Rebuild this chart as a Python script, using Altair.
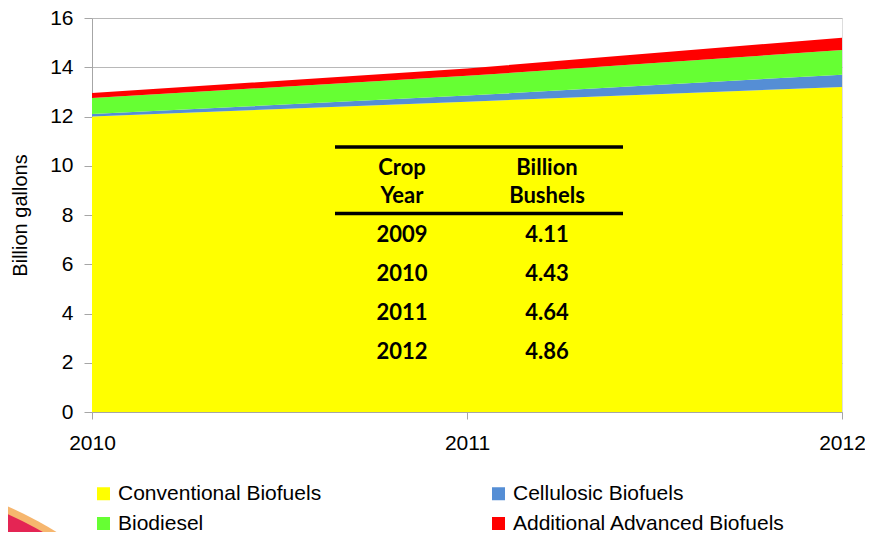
import altair as alt
import pandas as pd

years = [2010, 2011, 2012]
series_names = ["Conventional Biofuels", "Cellulosic Biofuels", "Biodiesel", "Additional Advanced Biofuels"]
conventional = [12.0, 12.6, 13.2]
cellulosic = [0.1, 0.25, 0.5]
biodiesel = [0.65, 0.8, 1.0]
additional = [0.2, 0.3, 0.5]
colors = ["#FFFF00", "#558ED5", "#66FF33", "#FF0000"]

table_header_col1 = ["Crop", "Year"]
table_header_col2 = ["Billion", "Bushels"]
crop_years = ["2009", "2010", "2011", "2012"]
billion_bushels = ["4.11", "4.43", "4.64", "4.86"]

rows = []
for i, (name, vals) in enumerate(zip(series_names, [conventional, cellulosic, biodiesel, additional])):
    for yr, v in zip(years, vals):
        rows.append({"year": str(yr), "series": name, "value": v, "idx": i})
df = pd.DataFrame(rows)

# legend fills column by column: rows read Conventional | Cellulosic, Biodiesel | Additional
legend_order = [series_names[0], series_names[2], series_names[1], series_names[3]]
legend_colors = [colors[0], colors[2], colors[1], colors[3]]

TOP = 10
off = TOP - 6

area = alt.Chart(df).mark_area(opacity=1).encode(
    x=alt.X("year:O", scale=alt.Scale(type="point", padding=0, domain=[str(y) for y in years]),
            axis=alt.Axis(title=None, grid=False, labelAngle=0,
                          labelFontSize=21, labelFont="Liberation Sans", labelColor="#000000",
                          ticks=True, tickSize=7, tickColor="#A6A6A6", domainColor="#A6A6A6",
                          labelPadding=13, labelOverlap=False, labelAlign="center")),
    y=alt.Y("value:Q", stack="zero", scale=alt.Scale(domain=[0, 16], nice=False),
            axis=alt.Axis(values=list(range(0, 17, 2)), title="Billion gallons",
                          labelFontSize=21, labelFont="Liberation Sans", labelColor="#000000",
                          titleFontSize=20, titleFont="Liberation Sans", titleFontWeight="normal",
                          titleColor="#000000", titlePadding=19,
                          tickSize=8, tickColor="#A6A6A6", domainColor="#A6A6A6",
                          gridColor="#B8B8B8", labelPadding=11, labelOverlap=False)),
    color=alt.Color("series:N", scale=alt.Scale(domain=legend_order, range=legend_colors),
                    legend=alt.Legend(title=None, orient="none", legendX=1, legendY=469 - off,
                                      columns=2, columnPadding=166, rowPadding=8,
                                      symbolType="square", symbolSize=169, symbolStrokeWidth=0,
                                      symbolOpacity=1, labelFontSize=21, labelFont="Liberation Sans",
                                      labelColor="#000000", labelOffset=4, labelLimit=400)),
    order=alt.Order("idx:Q"),
)

hdr1 = pd.DataFrame({"line": [0, 1], "text": table_header_col1})
hdr2 = pd.DataFrame({"line": [0, 1], "text": table_header_col2})
body1 = pd.DataFrame({"line": list(range(len(crop_years))), "text": crop_years})
body2 = pd.DataFrame({"line": list(range(len(billion_bushels))), "text": billion_bushels})

text_style = dict(font="Lato", fontWeight="bold", fontSize=22, color="#000000",
                  align="center", baseline="middle")

hdr_y = alt.Y("line:O", scale=alt.Scale(type="point", range=[154 - off, 182 - off], padding=0), axis=None)
body_y = alt.Y("line:O", scale=alt.Scale(type="point", range=[221 - off, 338 - off], padding=0), axis=None)

header_c1 = alt.Chart(hdr1).mark_text(**text_style).encode(x=alt.value(310), y=hdr_y, text="text:N")
header_c2 = alt.Chart(hdr2).mark_text(**text_style).encode(x=alt.value(455), y=hdr_y, text="text:N")
body_c1 = alt.Chart(body1).mark_text(**text_style).encode(x=alt.value(310), y=body_y, text="text:N")
body_c2 = alt.Chart(body2).mark_text(**text_style).encode(x=alt.value(455), y=body_y, text="text:N")

rule_top = alt.Chart(pd.DataFrame({"a": [0]})).mark_rule(color="#000000", strokeWidth=3.5).encode(
    x=alt.value(243), x2=alt.value(531), y=alt.value(133 - off))
rule_mid = alt.Chart(pd.DataFrame({"a": [0]})).mark_rule(color="#000000", strokeWidth=3.5).encode(
    x=alt.value(243), x2=alt.value(531), y=alt.value(199.5 - off))

# decorative slide swoosh in the bottom-left corner
swoosh_orange = alt.Chart(pd.DataFrame({"a": [0]})).mark_arc(
    theta=0.2, theta2=0.8, outerRadius=386, innerRadius=0, color="#F6B66E").encode(
    x=alt.value(-239), y=alt.value(843 - (TOP - 9)))
swoosh_red = alt.Chart(pd.DataFrame({"a": [0]})).mark_arc(
    theta=0.2, theta2=0.8, outerRadius=379, innerRadius=0, color="#E42554").encode(
    x=alt.value(-239), y=alt.value(843 - (TOP - 9)))

chart = alt.layer(swoosh_orange, swoosh_red, area, header_c1, header_c2, body_c1, body_c2,
                  rule_top, rule_mid).resolve_scale(
    y="independent"
).properties(
    width=750, height=398 - off,
    padding={"left": 84, "top": TOP, "right": 23, "bottom": 120},
    autosize="none",
).configure_view(stroke=None).configure(background="#FFFFFF")

chart.save("out.html", embed_options={"renderer": "svg", "actions": False})
